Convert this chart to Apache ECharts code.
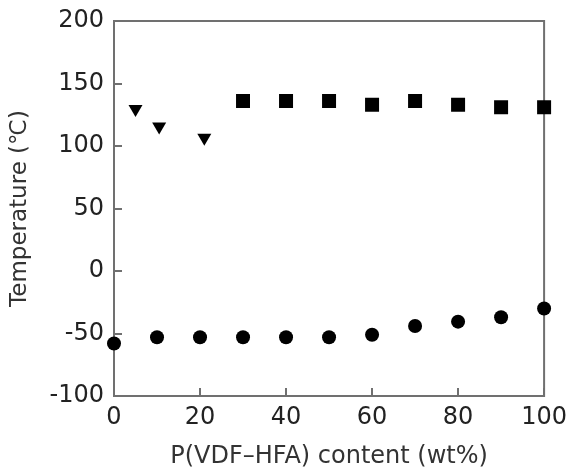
<!DOCTYPE html>
<html>
<head>
<meta charset="utf-8">
<script src="https://cdn.jsdelivr.net/npm/echarts@6/dist/echarts.min.js"></script>
<style>
  html, body { margin: 0; padding: 0; background: #fff; }
  #chart { width: 570px; height: 474px; }
</style>
</head>
<body>
<div id="chart"></div>
<script>
// P(VDF-HFA) content (wt%) for each measured blend
const circleX = [0, 10, 20, 30, 40, 50, 60, 70, 80, 90, 100];
const circleY = [-58, -53, -53, -53, -53, -53, -51, -44, -40.5, -37, -30];

const squareX = [30, 40, 50, 60, 70, 80, 90, 100];
const squareY = [136, 136, 136, 133, 136, 133, 131, 131];

const triangleX = [5, 10.5, 21];
const triangleY = [128, 114, 105];

const xTicks = [0, 20, 40, 60, 80, 100];
const yTicks = [-100, -50, 0, 50, 100, 150, 200];

const pairs = (xs, ys) => xs.map((x, i) => [x, ys[i]]);

const axisGray = '#707070';
const font = 'DejaVu Sans';
const markerStyle = { color: '#000', opacity: 1 };

const chart = echarts.init(document.getElementById('chart'), null, { renderer: 'canvas' });
chart.setOption({
  animation: false,
  backgroundColor: '#ffffff',
  grid: {
    left: 114, right: 24, top: 21, bottom: 78,
    show: true, borderColor: axisGray, borderWidth: 2, backgroundColor: 'transparent'
  },
  xAxis: {
    type: 'value',
    min: xTicks[0], max: xTicks[xTicks.length - 1], interval: 20,
    name: 'P(VDF\u2013HFA) content (wt%)',
    nameLocation: 'middle', nameGap: 49,
    nameTextStyle: { fontFamily: font, fontSize: 24, color: '#333' },
    axisLine: { show: true, onZero: false, lineStyle: { color: axisGray, width: 2 } },
    axisTick: { show: true, inside: true, length: 8, lineStyle: { color: axisGray, width: 2 } },
    axisLabel: { fontFamily: font, fontSize: 24, color: '#222', margin: 10 },
    splitLine: { show: false }
  },
  yAxis: {
    type: 'value',
    min: yTicks[0], max: yTicks[yTicks.length - 1], interval: 50,
    name: 'Temperature (\u2103)',
    nameLocation: 'middle', nameGap: 82,
    nameTextStyle: { fontFamily: font, fontSize: 23, color: '#333' },
    axisLine: { show: true, onZero: false, lineStyle: { color: axisGray, width: 2 } },
    axisTick: { show: true, inside: true, length: 8, lineStyle: { color: axisGray, width: 2 } },
    axisLabel: { fontFamily: font, fontSize: 24, color: '#222', margin: 10 },
    splitLine: { show: false }
  },
  series: [
    {
      type: 'scatter', name: 'circle',
      data: pairs(circleX, circleY),
      symbol: 'circle', symbolSize: 14,
      itemStyle: markerStyle
    },
    {
      type: 'scatter', name: 'square',
      data: pairs(squareX, squareY),
      symbol: 'rect', symbolSize: 14,
      itemStyle: markerStyle
    },
    {
      type: 'scatter', name: 'triangle',
      data: pairs(triangleX, triangleY),
      symbol: 'triangle', symbolRotate: 180, symbolSize: [14, 12],
      itemStyle: markerStyle
    }
  ]
});
</script>
</body>
</html>
